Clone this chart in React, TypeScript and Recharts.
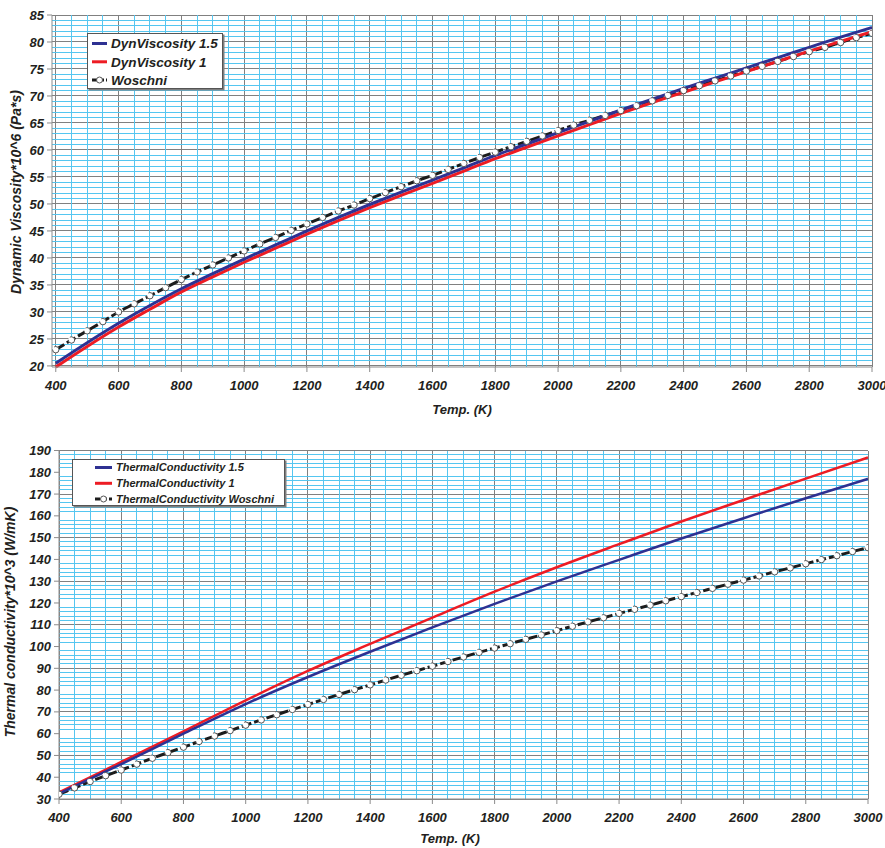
import { LineChart, Line, XAxis, YAxis, CartesianGrid, ReferenceLine } from 'recharts';

const FONT = '"Liberation Sans", Arial, sans-serif';

const tempTicks = [400, 600, 800, 1000, 1200, 1400, 1600, 1800, 2000, 2200, 2400, 2600, 2800, 3000];
const woschniTemps = [
  400, 450, 500, 550, 600, 650, 700, 750, 800, 850, 900, 950, 1000, 1050, 1100, 1150, 1200, 1250,
  1300, 1350, 1400, 1450, 1500, 1550, 1600, 1650, 1700, 1750, 1800, 1850, 1900, 1950, 2000, 2050,
  2100, 2150, 2200, 2250, 2300, 2350, 2400, 2450, 2500, 2550, 2600, 2650, 2700, 2750, 2800, 2850,
  2900, 2950, 3000,
];

// viscosity chart
const viscTemps = [
  400, 500, 600, 700, 800, 900, 1000, 1100, 1200, 1300, 1400, 1500, 1600, 1700, 1800, 1900, 2000,
  2100, 2200, 2300, 2400, 2500, 2600, 2700, 2800, 2900, 3000,
];
const dynVisc15 = [
  20.5, 24.3, 27.9, 31.2, 34.3, 37.1, 39.8, 42.4, 45.0, 47.5, 49.9, 52.2, 54.4, 56.7, 59.0, 61.1,
  63.2, 65.3, 67.4, 69.4, 71.4, 73.3, 75.2, 77.1, 79.0, 80.9, 82.7,
];
const dynVisc1 = [
  19.8, 23.6, 27.2, 30.5, 33.7, 36.5, 39.2, 41.8, 44.4, 46.9, 49.3, 51.6, 53.8, 56.1, 58.4, 60.5,
  62.6, 64.7, 66.8, 68.8, 70.7, 72.6, 74.5, 76.4, 78.3, 80.1, 81.9,
];
const viscWoschni = [
  23.0, 24.8, 26.5, 28.2, 30.0, 31.5, 33.0, 34.5, 36.0, 37.4, 38.7, 40.0, 41.3, 42.6, 43.8, 45.1,
  46.3, 47.5, 48.7, 49.8, 51.0, 52.1, 53.2, 54.3, 55.3, 56.4, 57.5, 58.6, 59.6, 60.6, 61.6, 62.6,
  63.6, 64.6, 65.5, 66.4, 67.3, 68.2, 69.1, 70.1, 71.0, 71.9, 72.8, 73.7, 74.6, 75.5, 76.4, 77.3,
  78.2, 79.0, 79.9, 80.8, 81.6,
];
const viscTicks = [20, 25, 30, 35, 40, 45, 50, 55, 60, 65, 70, 75, 80, 85];

// conductivity chart
const condTemps = [400, 600, 800, 1000, 1200, 1400, 1600, 1800, 2000, 2200, 2400, 2600, 2800, 3000];
const cond15 = [32.5, 46.0, 60.0, 73.6, 86.0, 97.6, 108.8, 119.6, 129.9, 139.8, 149.6, 158.9, 168.1, 177.0];
const cond1 = [33.0, 47.0, 61.0, 75.3, 88.8, 101.2, 113.3, 125.2, 136.4, 147.0, 157.4, 167.3, 177.1, 186.8];
const condWoschni = [
  32.2, 35.1, 38.0, 40.7, 43.3, 46.0, 48.7, 51.3, 53.8, 56.4, 58.9, 61.4, 63.9, 66.3, 68.7, 71.1,
  73.4, 75.7, 78.0, 80.2, 82.4, 84.6, 86.8, 88.9, 91.0, 93.1, 95.2, 97.3, 99.3, 101.3, 103.3, 105.3,
  107.3, 109.3, 111.3, 113.2, 115.2, 117.1, 119.0, 121.0, 122.9, 124.8, 126.7, 128.6, 130.5, 132.4,
  134.3, 136.1, 138.0, 139.9, 141.7, 143.6, 145.4,
];
const condTicks = [30, 40, 50, 60, 70, 80, 90, 100, 110, 120, 130, 140, 150, 160, 170, 180, 190];

function buildRows(sparseT: number[], a: number[], b: number[], w: number[]) {
  return woschniTemps.map((t, i) => {
    const j = sparseT.indexOf(t);
    return { t, a: j >= 0 ? a[j] : null, b: j >= 0 ? b[j] : null, w: w[i] };
  });
}

const steps = (from: number, to: number, step: number) => {
  const out: number[] = [];
  for (let v = from; v <= to + 1e-9; v += step) out.push(Math.round(v * 100) / 100);
  return out;
};

const tickStyle = { fontSize: 13, fontWeight: 'bold', fontStyle: 'italic', fill: '#231f20', fontFamily: FONT };
const MINOR = '#55c6f0';

type PanelProps = {
  rows: any[];
  xMin: number;
  yDomain: [number, number];
  yTicks: number[];
  minorY: number;
  margin: { top: number; right: number; bottom: number; left: number };
  yWidth: number;
  lineW: number;
};

function Panel({ rows, xMin, yDomain, yTicks, minorY, margin, yWidth, lineW }: PanelProps) {
  const minorH = steps(yDomain[0], yDomain[1], minorY).filter((v) => !yTicks.includes(v));
  const minorV = steps(400, 3000, 50).filter((v) => !tempTicks.includes(v));
  return (
    <LineChart width={885} height={424} data={rows} margin={margin}>
      {minorH.map((v) => (
        <ReferenceLine key={'h' + v} y={v} stroke={MINOR} strokeWidth={1} shapeRendering="crispEdges" />
      ))}
      {minorV.map((v) => (
        <ReferenceLine key={'v' + v} x={v} stroke={MINOR} strokeWidth={1} shapeRendering="crispEdges" />
      ))}
      <CartesianGrid
        fill="none"
        stroke="#808080"
        strokeWidth={1}
        shapeRendering="crispEdges"
        horizontalValues={yTicks}
        verticalValues={tempTicks}
      />
      <XAxis
        type="number"
        dataKey="t"
        domain={[xMin, 3000]}
        ticks={tempTicks}
        allowDataOverflow
        height={30}
        tickSize={5}
        tickMargin={9}
        stroke="#8c8c8c"
        tick={tickStyle}
      />
      <YAxis
        type="number"
        domain={yDomain}
        ticks={yTicks}
        width={yWidth}
        tickSize={5}
        tickMargin={3}
        stroke="#8c8c8c"
        tick={tickStyle}
      />
      <Line
        type="monotone"
        dataKey="w"
        stroke="#1c1c1c"
        strokeWidth={3}
        strokeDasharray="10 3"
        dot={{ r: 3.2, fill: '#fff', stroke: '#555', strokeWidth: 1 }}
        isAnimationActive={false}
      />
      <Line type="monotone" dataKey="b" stroke="#ed1c24" strokeWidth={lineW} dot={false} connectNulls isAnimationActive={false} />
      <Line type="monotone" dataKey="a" stroke="#2e3192" strokeWidth={lineW} dot={false} connectNulls isAnimationActive={false} />
    </LineChart>
  );
}

function LegendRow({ x, y, len, label, kind, size }: { x: number; y: number; len: number; label: string; kind: string; size: number }) {
  const color = kind === 'a' ? '#2e3192' : kind === 'b' ? '#ed1c24' : '#1c1c1c';
  return (
    <g>
      <line x1={x} x2={x + len} y1={y} y2={y} stroke={color} strokeWidth={3} strokeDasharray={kind === 'w' ? '5 2' : undefined} />
      {kind === 'w' && <circle cx={x + len / 2} cy={y} r={3} fill="#fff" stroke="#555" strokeWidth={1} />}
      <text x={x + len + 4} y={y + size * 0.36} fontSize={size} fontWeight="bold" fontStyle="italic" fill="#231f20" fontFamily={FONT}>
        {label}
      </text>
    </g>
  );
}

export default function App() {
  const viscRows = buildRows(viscTemps, dynVisc15, dynVisc1, viscWoschni);
  const condRows = buildRows(condTemps, cond15, cond1, condWoschni);
  const title = { fontSize: 13, fontWeight: 'bold', fontStyle: 'italic', fill: '#231f20', fontFamily: FONT } as const;
  return (
    <div style={{ position: 'absolute', left: 0, top: 0, width: 885, height: 848, background: '#fff', fontFamily: FONT }}>
      <div style={{ position: 'absolute', left: 0, top: 0 }}>
        <Panel
          rows={viscRows}
          xMin={388}
          yDomain={[20, 85]}
          yTicks={viscTicks}
          minorY={1}
          margin={{ top: 15, right: 13, bottom: 27, left: 0 }}
          yWidth={52}
          lineW={3}
        />
      </div>
      <div style={{ position: 'absolute', left: 0, top: 424 }}>
        <Panel
          rows={condRows}
          xMin={400}
          yDomain={[30, 190]}
          yTicks={condTicks}
          minorY={2}
          margin={{ top: 26.5, right: 17, bottom: 19, left: 0 }}
          yWidth={59}
          lineW={2.5}
        />
      </div>
      <svg width={885} height={848} style={{ position: 'absolute', left: 0, top: 0, pointerEvents: 'none' }}>
        <text {...title} x={462} y={414} textAnchor="middle">Temp.  (K)</text>
        <text {...title} x={450} y={843} textAnchor="middle">Temp.  (K)</text>
        <text {...title} fontSize={14} textAnchor="middle" transform="translate(21,192) rotate(-90)">Dynamic Viscosity*10^6  (Pa*s)</text>
        <text {...title} fontSize={14} textAnchor="middle" transform="translate(15,622) rotate(-90)">Thermal conductivity*10^3  (W/mK)</text>

        <rect x={88.5} y={34.5} width={136} height={56} fill="#7f7f7f" />
        <rect x={87.5} y={33.5} width={135} height={55} fill="#fff" stroke="#555" strokeWidth={1} />
        <LegendRow x={92} y={43.5} len={15} label="DynViscosity 1.5" kind="a" size={13.5} />
        <LegendRow x={92} y={61.8} len={15} label="DynViscosity 1" kind="b" size={13.5} />
        <LegendRow x={92} y={80} len={15} label="Woschni" kind="w" size={13.5} />

        <rect x={73.5} y={460.5} width={213} height={47} fill="#7f7f7f" />
        <rect x={72.5} y={459.5} width={212} height={46} fill="#fff" stroke="#555" strokeWidth={1} />
        <LegendRow x={95} y={467.5} len={17} label="ThermalConductivity 1.5" kind="a" size={11} />
        <LegendRow x={95} y={483.3} len={17} label="ThermalConductivity 1" kind="b" size={11} />
        <LegendRow x={95} y={499} len={17} label="ThermalConductivity Woschni" kind="w" size={11} />
      </svg>
    </div>
  );
}
